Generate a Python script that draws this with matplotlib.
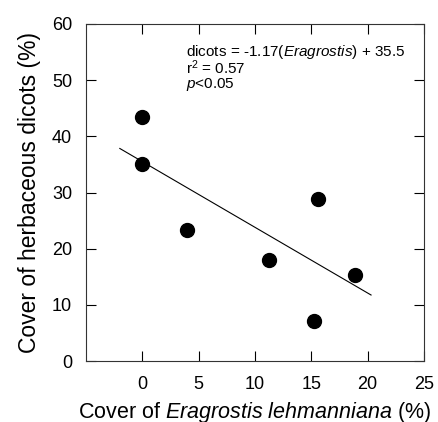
import matplotlib
matplotlib.use('Agg')
from matplotlib import pyplot as plt
import numpy as np

plt.rcParams['font.family'] = ['Liberation Sans', 'DejaVu Sans']
plt.rcParams['mathtext.fontset'] = 'custom'
plt.rcParams['mathtext.rm'] = 'Liberation Sans'
plt.rcParams['mathtext.it'] = 'Liberation Sans:italic'

eragrostis = [0.0, 0.0, 4.0, 11.2, 15.6, 15.2, 18.9]
dicots = [43.4, 35.0, 23.3, 18.0, 28.9, 7.2, 15.4]

slope = -1.17
intercept = 35.5
fit_x = np.array([-2.0, 20.3])
fit_y = slope * fit_x + intercept

fig = plt.figure(figsize=(4.38, 4.22), dpi=100)
ax = fig.add_axes([86 / 438, 1 - 361 / 422, 338 / 438, 337 / 422])

ax.plot(fit_x, fit_y, color='black', lw=0.8)
ax.scatter(eragrostis, dicots, s=100, color='black', zorder=3)

ax.set_xlim(-5, 25)
ax.set_ylim(0, 60)
ax.set_xticks([0, 5, 10, 15, 20, 25])
ax.set_yticks([0, 10, 20, 30, 40, 50, 60])
ax.tick_params(direction='in', length=7, width=0.8, top=True, right=True,
               labelsize=13)
ax.tick_params(axis='x', pad=11)
ax.tick_params(axis='y', pad=10)
for sp in ax.spines.values():
    sp.set_linewidth(0.8)
    sp.set_color('#333333')

ax.text(3.9, 56.6, 'dicots = -1.17($\\it{Eragrostis}$) + 35.5\nr$^{2}$ = 0.57\n$\\it{p}$<0.05',
        fontsize=11, va='top', ha='left', linespacing=0.85)

ax.set_xlabel('Cover of $\\it{Eragrostis\\ lehmanniana}$ (%)', fontsize=15.5, labelpad=5)
ax.set_ylabel('Cover of herbaceous dicots (%)', fontsize=16.5, labelpad=8)

fig.savefig('out.png', dpi=100)
